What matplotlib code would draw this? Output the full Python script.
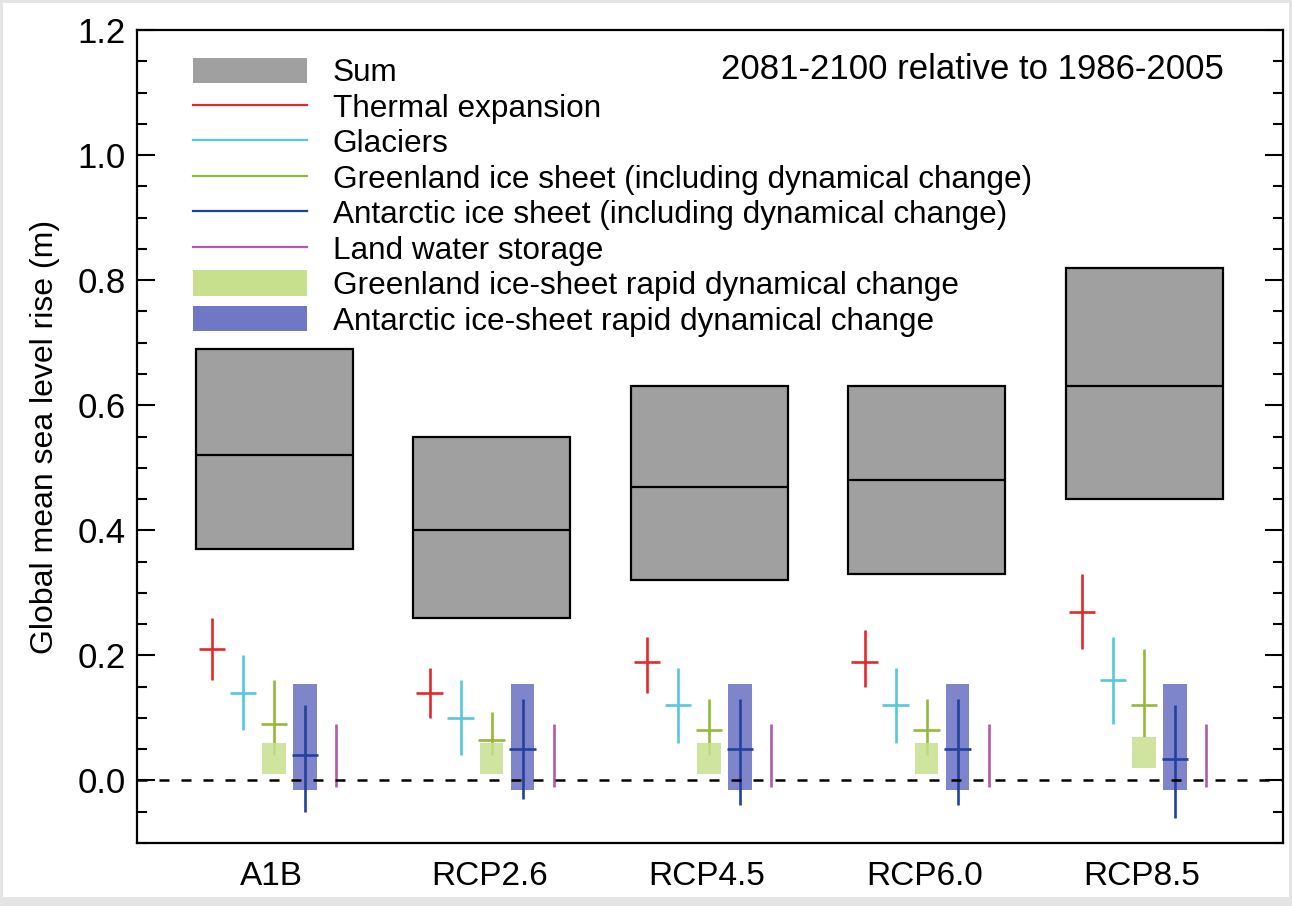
import numpy as np
import matplotlib
matplotlib.use("Agg")
import matplotlib.pyplot as plt
from matplotlib.patches import Patch, Rectangle
from matplotlib.lines import Line2D
from matplotlib.ticker import MultipleLocator, FormatStrFormatter

plt.rcParams['font.family'] = ['Liberation Sans', 'DejaVu Sans']

# scenarios on the x axis
scenarios = ['A1B', 'RCP2.6', 'RCP4.5', 'RCP6.0', 'RCP8.5']

# sum of contributions (median and likely range), metres
sum_med = [0.52, 0.40, 0.47, 0.48, 0.63]
sum_lo = [0.37, 0.26, 0.32, 0.33, 0.45]
sum_hi = [0.69, 0.55, 0.63, 0.63, 0.82]

thermal_med = [0.21, 0.14, 0.19, 0.19, 0.27]
thermal_lo = [0.16, 0.10, 0.14, 0.15, 0.21]
thermal_hi = [0.26, 0.18, 0.23, 0.24, 0.33]

glacier_med = [0.14, 0.10, 0.12, 0.12, 0.16]
glacier_lo = [0.08, 0.04, 0.06, 0.06, 0.09]
glacier_hi = [0.20, 0.16, 0.18, 0.18, 0.23]

greenland_med = [0.09, 0.065, 0.08, 0.08, 0.12]
greenland_lo = [0.04, 0.04, 0.04, 0.04, 0.07]
greenland_hi = [0.16, 0.11, 0.13, 0.13, 0.21]

antarctic_med = [0.04, 0.05, 0.05, 0.05, 0.035]
antarctic_lo = [-0.05, -0.03, -0.04, -0.04, -0.06]
antarctic_hi = [0.12, 0.13, 0.13, 0.13, 0.12]

landwater_lo = [-0.01, -0.01, -0.01, -0.01, -0.01]
landwater_hi = [0.09, 0.09, 0.09, 0.09, 0.09]

gis_rapid_lo = [0.01, 0.01, 0.01, 0.01, 0.02]
gis_rapid_hi = [0.06, 0.06, 0.06, 0.06, 0.07]

ais_rapid_lo = [-0.015, -0.015, -0.015, -0.015, -0.015]
ais_rapid_hi = [0.155, 0.155, 0.155, 0.155, 0.155]

legend_labels = [
    'Sum',
    'Thermal expansion',
    'Glaciers',
    'Greenland ice sheet (including dynamical change)',
    'Antarctic ice sheet (including dynamical change)',
    'Land water storage',
    'Greenland ice-sheet rapid dynamical change',
    'Antarctic ice-sheet rapid dynamical change',
]

c_sum = '#a0a0a0'
c_thermal = '#e5292b'
c_glacier = '#55c8dc'
c_greenland = '#95b93a'
c_antarctic = '#23409c'
c_land = '#b35aa8'
c_gis_rapid = '#c6e08e'
c_ais_rapid = '#7078c6'

x = np.arange(len(scenarios))
step = 0.1425      # spacing between components within a group
half = 0.06        # half width of the median crossbar
lw = 1.9

fig = plt.figure(figsize=(12.92, 9.06), dpi=100)
fig.patch.set_facecolor('#e4e4e4')
fig.patches.append(Rectangle((3 / 1292, 9 / 906), 1286 / 1292, 894 / 906,
                             transform=fig.transFigure, facecolor='white',
                             edgecolor='none', zorder=-10))
ax = fig.add_axes([137 / 1292, 1 - 843 / 906, 1146 / 1292, 813 / 906])
ax.set_facecolor('none')

lo = np.array(sum_lo)
hi = np.array(sum_hi)
ax.bar(x, hi - lo, bottom=lo, width=0.722, color=c_sum, edgecolor='black',
       linewidth=1.6, zorder=2)
ax.hlines(sum_med, x - 0.361, x + 0.361, color='black', lw=1.6, zorder=3)

# rapid dynamics boxes
gl = np.array(gis_rapid_lo)
ax.bar(x, np.array(gis_rapid_hi) - gl, bottom=gl, width=0.11,
       color=c_gis_rapid, alpha=0.85, zorder=4)
al = np.array(ais_rapid_lo)
ax.bar(x + step, np.array(ais_rapid_hi) - al, bottom=al, width=0.106,
       color=c_ais_rapid, alpha=0.9, zorder=2)


def cross(pos, med, lo_, hi_, color, z=3):
    ax.vlines(pos, lo_, hi_, color=color, lw=lw, zorder=z)
    if med is not None:
        ax.hlines(med, pos - half, pos + half, color=color, lw=lw, zorder=z)


cross(x - 2 * step, thermal_med, thermal_lo, thermal_hi, c_thermal)
cross(x - step, glacier_med, glacier_lo, glacier_hi, c_glacier)
cross(x, greenland_med, greenland_lo, greenland_hi, c_greenland)
cross(x + step, antarctic_med, antarctic_lo, antarctic_hi, c_antarctic)
cross(x + 2 * step, None, landwater_lo, landwater_hi, c_land)

ax.axhline(0, color='black', lw=1.8, dashes=(4, 4.8), zorder=5)

ax.set_xlim(-0.63, 4.639)
ax.set_ylim(-0.1, 1.2)
ax.set_xticks(x - 0.01)
ax.set_xticklabels(scenarios, fontsize=24)
ax.set_yticks(np.arange(0, 1.21, 0.2))
ax.yaxis.set_major_formatter(FormatStrFormatter('%.1f'))
ax.yaxis.set_minor_locator(MultipleLocator(0.05))
ax.tick_params(axis='y', which='both', direction='in', left=True, right=True,
               width=1.5, labelsize=25, pad=8)
ax.tick_params(axis='y', which='major', length=13)
ax.tick_params(axis='y', which='minor', length=7)
ax.tick_params(axis='x', length=0, pad=13)
for sp in ax.spines.values():
    sp.set_linewidth(1.6)

ax.set_ylabel('Global mean sea level rise (m)', fontsize=23, labelpad=13)

ax.text(0.9485, 0.951, '2081-2100 relative to 1986-2005', transform=ax.transAxes,
        ha='right', va='center', fontsize=25)

handles = [
    Patch(facecolor=c_sum, edgecolor='none'),
    Line2D([], [], color=c_thermal, lw=1.6),
    Line2D([], [], color=c_glacier, lw=1.6),
    Line2D([], [], color=c_greenland, lw=1.6),
    Line2D([], [], color=c_antarctic, lw=1.6),
    Line2D([], [], color=c_land, lw=1.6),
    Patch(facecolor=c_gis_rapid, edgecolor='none'),
    Patch(facecolor=c_ais_rapid, edgecolor='none'),
]
ax.legend(handles, legend_labels, loc='upper left', bbox_to_anchor=(0.049, 0.966),
          frameon=False, fontsize=22.7, handlelength=3.62, handleheight=0.86,
          handletextpad=0.8, labelspacing=0.155, borderaxespad=0, borderpad=0)

fig.savefig('out.png', dpi=100, facecolor=fig.get_facecolor())
